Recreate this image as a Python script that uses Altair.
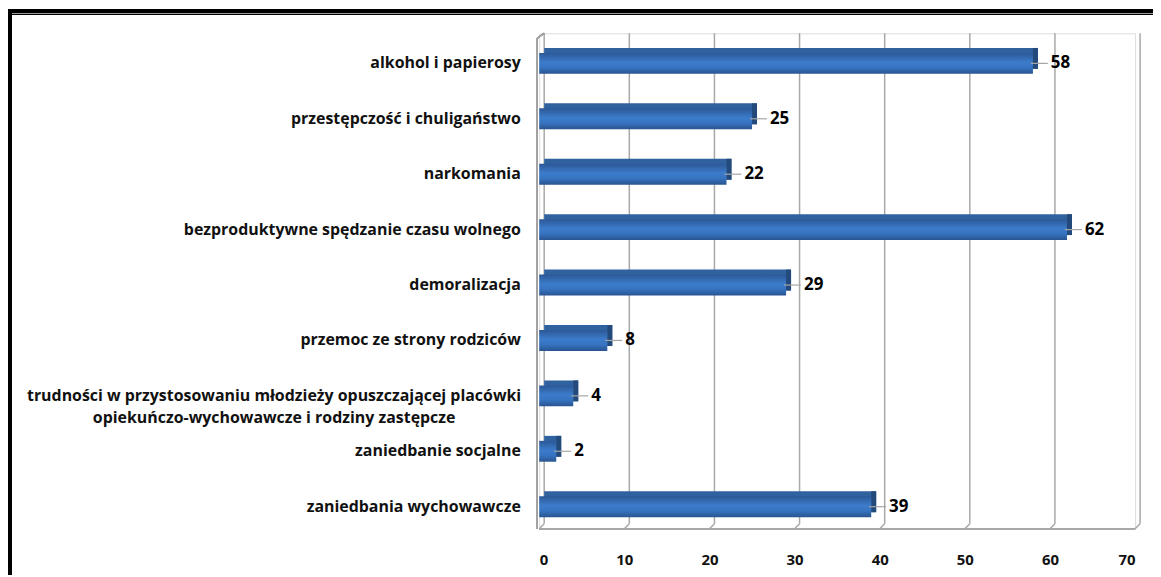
import altair as alt
import pandas as pd

categories = [
    "alkohol i papierosy",
    "przestępczość i chuligaństwo",
    "narkomania",
    "bezproduktywne spędzanie czasu wolnego",
    "demoralizacja",
    "przemoc ze strony rodziców",
    "trudności w przystosowaniu młodzieży opuszczającej placówki|opiekuńczo-wychowawcze i rodziny zastępcze",
    "zaniedbanie socjalne",
    "zaniedbania wychowawcze",
]
values = [58, 25, 22, 62, 29, 8, 4, 2, 39]
ticks = [0, 10, 20, 30, 40, 50, 60, 70]

df = pd.DataFrame({"cat": categories, "value": values})
tdf = pd.DataFrame({"t": ticks})

FONT = "Open Sans"
W, H = 599, 498
DEPTH = 5
YOFF = 4
LONG = categories[6]

xscale = alt.Scale(domain=[0, 70], nice=False, zero=True)
yscale = alt.Scale(domain=categories, paddingOuter=0.27, paddingInner=0.6)

xaxis = alt.Axis(values=ticks, grid=False, ticks=False, domain=False,
                 labelFont=FONT, labelFontWeight="bold", labelFontSize=15,
                 labelColor="#111111", labelPadding=24, title=None)
yaxis = alt.Axis(grid=False, ticks=False, domain=False, title=None,
                 labelFont=FONT, labelFontWeight="bold", labelFontSize=16,
                 labelColor="#111111", labelLimit=0, labelOffset=YOFF,
                 labelLineHeight=22,
                 labelExpr="split(datum.label, '|')",
                 labelAlign={"condition": {"test": f"datum.value == '{LONG}'", "value": "center"}, "value": "right"},
                 labelPadding={"condition": {"test": f"datum.value == '{LONG}'", "value": 267}, "value": 19})

base = alt.Chart(df)

# back wall gridlines
grid = alt.Chart(tdf).mark_rule(color="#a8a8a8", strokeWidth=1.5, xOffset=DEPTH).encode(
    x=alt.X("t:Q", scale=xscale, axis=xaxis),
    y=alt.value(0), y2=alt.value(H - DEPTH))
grid_diag = alt.Chart(tdf).mark_rule(color="#a8a8a8", strokeWidth=1.5, xOffset=DEPTH, x2Offset=0).encode(
    x="t:Q", x2="t:Q", y=alt.value(H - DEPTH), y2=alt.value(H))
floor = alt.Chart(tdf).mark_rule(color="#a8a8a8", strokeWidth=1.5).encode(
    x=alt.datum(0), x2=alt.datum(70), y=alt.value(H))
wall_front = alt.Chart(tdf).mark_rule(color="#a0a0a0", strokeWidth=1.2, xOffset=-2).encode(
    x=alt.datum(0), y=alt.value(DEPTH), y2=alt.value(H))
wall_top = alt.Chart(tdf).mark_rule(color="#a0a0a0", strokeWidth=1.2, xOffset=DEPTH, x2Offset=-2).encode(
    x=alt.datum(0), x2=alt.datum(0), y=alt.value(0), y2=alt.value(DEPTH))

# bars: back (top face), end face, front face
bar_back = base.mark_bar(color="#3062a0", size=21, xOffset=DEPTH, x2Offset=DEPTH, yOffset=YOFF - DEPTH).encode(
    x=alt.X("value:Q", scale=xscale),
    y=alt.Y("cat:N", scale=yscale, axis=yaxis, sort=categories))
bar_end = base.mark_bar(color="#244a7c", size=21, x2Offset=DEPTH, yOffset=YOFF - DEPTH).encode(
    x="value:Q", x2="value:Q", y=alt.Y("cat:N", sort=categories))
grad = alt.Gradient(gradient="linear", x1=0, x2=0, y1=0, y2=1, stops=[
    alt.GradientStop(color="#2c5896", offset=0),
    alt.GradientStop(color="#3c7ccb", offset=0.45),
    alt.GradientStop(color="#3673c0", offset=0.7),
    alt.GradientStop(color="#2a5490", offset=1),
])
bar_front = base.mark_bar(color=grad, size=21, yOffset=YOFF).encode(
    x="value:Q", y=alt.Y("cat:N", sort=categories))

leader = base.mark_rule(color="#a6a6a6", strokeWidth=1.2, xOffset=-2, x2Offset=15, yOffset=YOFF).encode(
    x="value:Q", x2="value:Q", y=alt.Y("cat:N", sort=categories))
labels = base.mark_text(align="left", baseline="middle", dx=18, yOffset=YOFF, font=FONT,
                        fontWeight="bold", fontSize=17, color="#000000").encode(
    x="value:Q", y=alt.Y("cat:N", sort=categories), text="value:Q")

# outer frame (decorative)
frame_top1 = alt.Chart(tdf).mark_rule(color="#000000", strokeWidth=3).encode(
    x=alt.value(-534), x2=alt.value(W + 30), y=alt.value(-22.5))
frame_top2 = alt.Chart(tdf).mark_rule(color="#000000", strokeWidth=1).encode(
    x=alt.value(-534), x2=alt.value(W + 30), y=alt.value(-19))
frame_left = alt.Chart(tdf).mark_rule(color="#000000", strokeWidth=3.5).encode(
    x=alt.value(-532), y=alt.value(-24), y2=alt.value(H + 50))

chart = alt.layer(
    grid, grid_diag, floor, wall_front, wall_top,
    bar_back, bar_end, bar_front, leader, labels,
    frame_top1, frame_top2, frame_left,
).properties(
    width=W, height=H,
    autosize=alt.AutoSizeParams(type="none"),
    padding={"left": 534, "top": 24, "right": 18, "bottom": 45},
).configure_view(stroke=None).configure(background="white")

chart.save("out.html", embed_options={"renderer": "svg", "actions": False})
